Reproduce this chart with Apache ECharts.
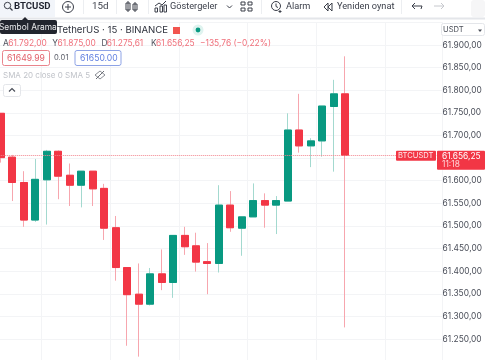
<!DOCTYPE html>
<html><head><meta charset="utf-8">
<style>html,body{margin:0;padding:0;background:#fff}#c{width:485px;height:360px}</style>
<script src="https://cdn.jsdelivr.net/npm/echarts@6/dist/echarts.min.js"></script></head>
<body><div id="c"></div>
<script>
// [open, close, low, high]
const candles = [
[61749,61651,61640,61749],[61652,61596,61555,61657],[61596,61513,61498,61621],[61513,61603,61509,61648],
[61602,61665,61503,61668],[61665,61610,61559,61667],[61612,61590,61544,61638],[61590,61621,61541,61621],
[61621,61582,61544,61621],[61583,61495,61469,61593],[61496,61408,61379,61522],[61408,61348,61235,61408],
[61349,61327,61211,61417],[61327,61394,61324,61407],[61394,61375,61358,61448],[61375,61479,61341,61479],
[61479,61454,61436,61498],[61456,61420,61399,61485],[61421,61417,61349,61462],[61417,61546,61397,61590],
[61546,61496,61487,61577],[61495,61520,61434,61520],[61520,61556,61520,61594],[61556,61546,61496,61572],
[61546,61556,61482,61566],[61555,61712,61555,61749],[61712,61677,61662,61792],[61677,61688,61630,61694],
[61688,61765,61653,61765],[61764,61792,61620,61823],[61792,61656.25,61275.61,61875]];
const extraSlots = 8;
const lastPrice = 61656.25;
const priceMin = 61200, priceMax = 61950, priceStep = 50;
const ohlcLine = [['A','61.792,00'],['Y','61.875,00'],['D','61.275,61'],['K','61.656,25']];
const changeText = '−135,76 (−0,22%)';
const upColor = '#089981', downColor = '#F23645', upWick = '#A3D9CF', downWick = '#F7A6AE';

const cats = [...candles.map((_,i)=>String(i)), ...Array.from({length:extraSlots},(_,i)=>String(candles.length+i))];
const bodies = candles.map(c=>[c[0],c[1],Math.min(c[0],c[1]),Math.max(c[0],c[1])]);
const fmt = v => Math.round(v).toString().replace(/\B(?=(\d{3})+$)/g,'.')+',00';
const ff = 'Inter, "Liberation Sans", sans-serif';
const ft = 'Roboto, "Liberation Sans", sans-serif';
const band = 11.47, left = 1-band/2, pxPerUnit = .4523;

const chart = echarts.init(document.getElementById('c'),null,{renderer:'canvas'});
const t = (x,y,text,fill,size,extra,font)=>({type:'text',x,y:y+1,z:50,style:Object.assign({text,fill,font:`${size}px ${font||ff}`,textVerticalAlign:'middle'},extra||{})});
const r = (x,y,w,h,fill,stroke,rad)=>({type:'rect',z:49,shape:{x,y,width:w,height:h,r:rad||0},style:{fill,stroke:stroke||null,lineWidth:1}});
const ln = (pts,color,w)=>({type:'polyline',z:50,shape:{points:pts},style:{stroke:color||'#2a2e39',fill:null,lineWidth:w||1}});
const circ=(cx,cy,rr,fill,stroke)=>({type:'circle',z:50,shape:{cx,cy,r:rr},style:{fill:fill||null,stroke:stroke||null,lineWidth:1}});
const ink='#3a3e49';
const els = [
 r(0,0,485,18,'#fff'), r(0,17.5,485,2,'#e4e6ea'),
 r(0,0,55,17,'#f2f5fa'),
 circ(7.5,5.5,3.2,null,ink), ln([[10,8],[12.5,10.5]],ink,1.2),
 t(14,6,'BTCUSD','#1f2330',9.6,{font:`bold 9.6px ${ft}`}),
 circ(68,7,5.5,null,ink), ln([[65,7],[71,7]],ink), ln([[68,4],[68,10]],ink),
 r(83,0,1,14,'#eceef1'), t(92,6,'15d',ink,9.8,{},ft),
 r(116,0,1,14,'#eceef1'),
 ln([[128,1],[128,12]],ink), r(126,3,4,7,'#fff',ink), ln([[135,2],[135,12]],ink), r(133,4,4,6,'#fff',ink),
 r(148,0,1,14,'#eceef1'),
 ln([[155,6],[159,3],[162,5],[166,1]],ink), r(155,8,2.5,4,'#fff',ink), r(160,6,2.5,6,'#fff',ink), r(164,5,2.5,7,'#fff',ink),
 t(170,6,'Göstergeler',ink,9.2,{},ft), ln([[227,5.5],[229.5,8],[232,5.5]],ink),
 r(241,2,4,3,'#fff',ink), r(248,2,4,3,'#fff',ink), r(241,8,4,3,'#fff',ink), r(248,8,4,3,'#fff',ink),
 r(261,0,1,14,'#eceef1'),
 circ(276,6,4.5,null,ink), ln([[276,3.5],[276,6.5],[278,7.5]],ink), ln([[280,10],[280,13]],ink), ln([[278.5,11.5],[281.5,11.5]],ink),
 t(286,6,'Alarm',ink,9.2,{},ft),
 ln([[328,3],[324,7],[328,11],[328,3]],ink), ln([[332,3],[328,7],[332,11],[332,3]],ink),
 t(337,6,'Yeniden oynat',ink,9.2,{},ft),
 r(401,0,1,14,'#eceef1'),
 ln([[412,6],[422,6],[421,9]],ink), ln([[415,3],[412,6],[415,9]],ink),
 ln([[444,6],[434,6]],'#c6c8cd'), ln([[441,3],[444,6],[441,9]],'#c6c8cd'),
 r(471,0,14,17,'#f6f6f7',null,3),
 // Legend
 r(0,20,57,14,'#22252e',null,2),
 {type:'polygon',z:49,shape:{points:[[22,20],[25,17],[28,20]]},style:{fill:'#22252e'}},
 t(-1,26,'Sembol Arama','#e8e9eb',8.4),
 t(57,29,'TetherUS · 15 · BINANCE','#2e323d',9.6),
 r(173,27,7,7,'#f2554f'),
 circ(198,30,5.5,'#dff3ef'), circ(198,30,2.4,upColor),
 r(2.5,50.5,47,15,'#fff','#e9848c',2), t(7,57,'61649.99','#e2606a',8.6),
 t(54,57,'0.01','#5d606b',7.6),
 r(75,50.5,46,15,'#fff','#8ea3e6',2), t(80,57,'61650.00','#5f7fe0',8.6),
 t(3,75,'SMA 20 close 0 SMA 5','#c0c3c9',8),
 ln([[95,75],[100,71],[105,75],[100,79],[95,75]],'#8b8e95'), ln([[96,79],[104,71]],'#6a6d75'),
 r(3.5,84.5,17,12,'#fff','#e4e6ea',2), ln([[9,91.5],[12,88.5],[15,91.5]],'#4b4f59',1.2),
 // USDT selector
 r(441.5,23.5,43,12,'#fff','#e4e6ea',2), t(443,29,'USDT','#4b4f59',7.6),
 {type:'polygon',z:50,shape:{points:[[478,29.5],[482,29.5],[480,32]]},style:{fill:'#4b4f59'}}
];
let x=3; ohlcLine.forEach(p=>{
  els.push(t(x,42,p[0],'#50535e',8.4));
  els.push(t(x+5.2,42,p[1],'#f0707b',8.4)); x+=49.3;
});
els.push(t(200,42,changeText,'#f0707b',8.4));

chart.setOption({
 animation:false, backgroundColor:'#fff',
 grid:{left:left,top:45-50*pxPerUnit,width:cats.length*band,height:(priceMax-priceMin)*pxPerUnit,containLabel:false,outerBoundsMode:'none'},
 xAxis:{type:'category',data:cats,boundaryGap:true,axisLine:{show:false},axisTick:{show:false},axisLabel:{show:false},
   splitLine:{show:true,interval:i=>(i-4)%6===0&&i>=4,lineStyle:{color:'#f3f4f6',width:1}}},
 yAxis:{type:'value',position:'right',min:priceMin,max:priceMax,interval:priceStep,
   axisLine:{show:false},axisTick:{show:false},splitLine:{lineStyle:{color:'#f3f4f6',width:1}},
   axisLabel:{showMinLabel:false,showMaxLabel:false,margin:0,padding:[2,0,0,0],formatter:fmt,color:'#4a4e59',fontSize:8.4,fontFamily:ff,align:'left'}},
 series:[
  {type:'candlestick',name:'wick',barWidth:7.5,data:candles,clip:false,
   itemStyle:{color:upWick,color0:downWick,borderColor:upWick,borderColor0:downWick,borderWidth:1},
   markLine:{silent:true,symbol:'none',label:{show:false},lineStyle:{color:'#F2848E',type:'dotted',width:1},data:[{yAxis:lastPrice}],animation:false}},
  {type:'candlestick',name:'body',barWidth:7.5,data:bodies,
   itemStyle:{color:upColor,color0:downColor,borderColor:upColor,borderColor0:downColor,borderWidth:1}}
 ],
 graphic:{elements:[]}
});
const py = chart.convertToPixel({yAxisIndex:0},lastPrice);
const tag = [
 r(396,py-4.5,40,10,downColor,null,1), t(398,py-.5,'BTCUSDT','#ffe9eb',7.6),
 r(437,py-4.5,48,19,downColor,null,1),
 t(442,py,fmt(lastPrice).replace(',00',',25'),'#fff',8.4), t(442,py+8.5,'11:18','#ffd5d9',8.4)
];
chart.setOption({graphic:{elements:els.concat(tag)}});
</script></body></html>
